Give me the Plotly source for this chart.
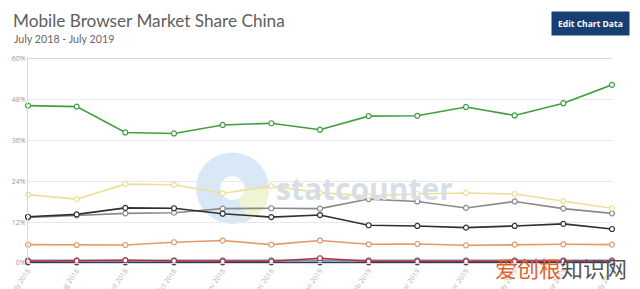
import plotly.graph_objects as go

months = ["July 2018", "Aug 2018", "Sept 2018", "Oct 2018", "Nov 2018", "Dec 2018",
          "Jan 2019", "Feb 2019", "Mar 2019", "Apr 2019", "May 2019", "June 2019", "July 2019"]

green = [46.3, 46.0, 38.4, 38.1, 40.6, 41.1, 39.2, 43.2, 43.3, 45.9, 43.4, 47.0, 52.4]
yellow = [20.1, 18.8, 23.2, 23.0, 20.5, 22.6, 20.7, 19.7, 20.3, 20.6, 20.3, 18.2, 16.1]
black = [13.6, 14.3, 16.2, 16.1, 14.5, 13.5, 14.1, 11.1, 10.9, 10.4, 10.9, 11.5, 10.0]
gray = [13.4, 14.0, 14.6, 14.8, 16.0, 16.1, 16.0, 18.8, 18.1, 16.2, 18.1, 16.0, 14.6]
orange = [5.4, 5.3, 5.3, 6.1, 6.6, 5.4, 6.6, 5.5, 5.6, 5.2, 5.4, 5.5, 5.4]
slate = [0.8, 0.8, 0.8, 0.8, 0.8, 0.8, 0.8, 0.8, 0.8, 0.8, 0.8, 0.8, 0.8]
red = [0.5, 0.6, 0.8, 0.6, 0.5, 0.5, 1.4, 0.5, 0.5, 0.5, 0.5, 0.5, 0.5]
navy = [0.2, 0.2, 0.2, 0.2, 0.2, 0.2, 0.2, 0.2, 0.2, 0.2, 0.2, 0.2, 0.2]

series = [
    ("navy", navy, "#2d3a66"),
    ("slate", slate, "#7f8da8"),
    ("red", red, "#b03040"),
    ("orange", orange, "#e39a66"),
    ("gray", gray, "#8a8a8a"),
    ("black", black, "#2f2f2f"),
    ("yellow", yellow, "#ecdf9a"),
    ("green", green, "#3f9e3f"),
]

yticks = [0, 12, 24, 36, 48, 60]
ytext = ["0%", "12%", "24%", "36%", "48%", "60%"]

fig = go.Figure()
for name, vals, col in series:
    fig.add_trace(go.Scatter(
        x=list(range(len(months))), y=vals, mode="lines+markers", name=name,
        line=dict(color=col, width=1.6),
        marker=dict(symbol="circle", size=5, color="white", line=dict(color=col, width=1.2)),
        cliponaxis=False,
    ))

shapes = [
    # statcounter logo watermark
    dict(type="circle", xref="x", yref="y", x0=3.45, x1=4.95, y0=11.5, y1=32.5,
         fillcolor="#d9e8f6", line=dict(width=0), layer="below"),
    dict(type="path", xref="x", yref="y",
         path="M 4.2 22 L 4.95 22 Q 4.95 14 4.5 13.2 Z",
         fillcolor="#eef4d6", line=dict(width=0), layer="below"),
    dict(type="circle", xref="x", yref="y", x0=3.95, x1=4.45, y0=18.5, y1=25.5,
         fillcolor="white", line=dict(width=0), layer="below"),
]

annotations = [
    dict(text="statcounter", x=5.05, y=22, xref="x", yref="y", xanchor="left", yanchor="middle",
         showarrow=False, font=dict(family="Open Sans", size=30, color="#d8dee5", weight="bold")),
    dict(text="Mobile Browser Market Share China", x=11, y=20, xref="paper", yref="paper",
         showarrow=False, xanchor="left", yanchor="middle",
         font=dict(family="Lato", size=17.2, color="#5e5e5e")),
    dict(text="July 2018 - July 2019", x=12, y=39, xref="paper", yref="paper",
         showarrow=False, xanchor="left", yanchor="middle",
         font=dict(family="Lato", size=10.7, color="#666666")),
    dict(text="<b>Edit Chart Data</b>", x=590, y=24, showarrow=False,
         xanchor="center", yanchor="middle", bgcolor="#173f73", borderpad=6,
         font=dict(family="Open Sans", size=8.5, color="white")),
    dict(text="<span style='color:#e0612a'>爱创根</span><span style='color:#555555'>知识网</span>",
         x=561, y=267, showarrow=False, xanchor="center", yanchor="middle",
         font=dict(family="Noto Sans CJK SC", size=22)),
]
# convert pixel-positioned annotations to paper coords
L, R, T, B = 28, 28, 59, 26
W, H = 640, 289
pw, ph = W - L - R, H - T - B
for a in annotations:
    if a.get("xref") == "x":
        continue
    px, py = a["x"], a["y"]
    a["xref"], a["yref"] = "paper", "paper"
    a["x"] = (px - L) / pw
    a["y"] = (H - B - py) / ph

fig.update_layout(
    width=W, height=H,
    margin=dict(l=L, r=R, t=T, b=B, autoexpand=False),
    paper_bgcolor="white", plot_bgcolor="white",
    showlegend=False,
    shapes=shapes,
    annotations=annotations,
    xaxis=dict(range=[0, 12], tickvals=list(range(len(months))), ticktext=months,
               tickangle=-55, tickfont=dict(family="Open Sans", size=7, color="#b5b5b5"),
               showgrid=False, zeroline=False, showline=True, linecolor="#d8d8d8",
               mirror=True, ticks="", automargin=False),
    yaxis=dict(range=[0, 60], tickvals=yticks, ticktext=ytext,
               tickfont=dict(family="Open Sans", size=7, color="#999999"),
               gridcolor="#e8e8e8", gridwidth=1, zeroline=False, showline=True,
               linecolor="#d8d8d8", ticks="", automargin=False),
)

fig.write_html("out.html")
